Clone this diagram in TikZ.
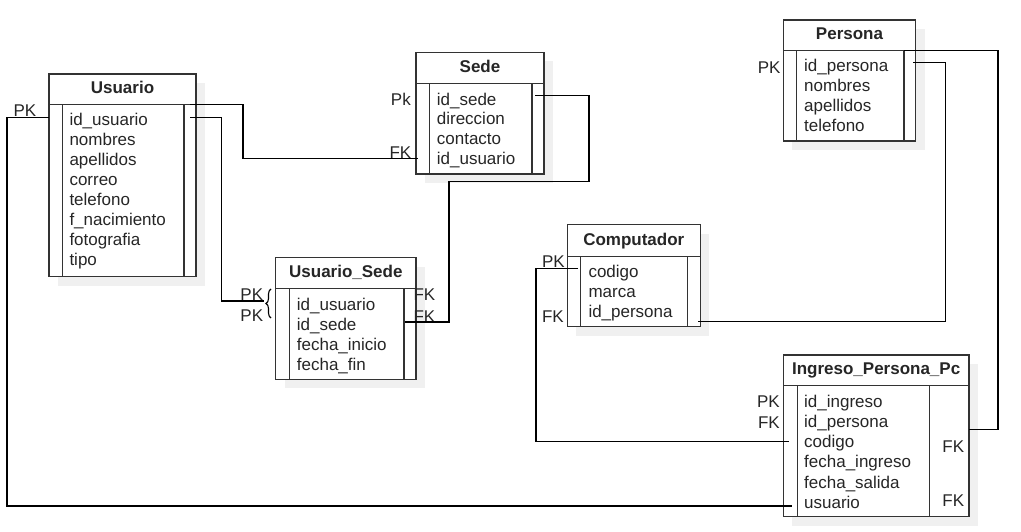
\documentclass[tikz,border=0pt]{standalone}
\usepackage{fontspec}
\setmainfont{Liberation Sans}
\usetikzlibrary{positioning, shadows, decorations.pathreplacing}
\tikzstyle{tabhead} = [rectangle, draw=black!80, line width=1.2pt, fill=white, inner sep=0pt, outer sep=0pt, text height=9pt, text depth=0pt, font=\fontsize{17}{20}\selectfont\bfseries, drop shadow={shadow xshift=9pt, shadow yshift=-9pt, fill=black!6, opacity=1}]
\tikzstyle{tabbody} = [rectangle, draw=black!80, line width=1.2pt, fill=white, inner sep=0pt, outer sep=0pt, drop shadow={shadow xshift=9pt, shadow yshift=-9pt, fill=black!6, opacity=1}]
\tikzstyle{attr} = [anchor=west, inner sep=0pt, text height=12pt, text depth=0pt]
\tikzstyle{pklabel} = [inner sep=0pt, text height=12pt, text depth=0pt]
\tikzstyle{colline} = [draw=black!80, line width=1.2pt]
\tikzstyle{relation} = [draw=black, line width=1.1pt]

\begin{document}
\begin{tikzpicture}[x=1pt, y=-1pt, every node/.style={font=\fontsize{17}{20}\selectfont, text=black!85}]
\useasboundingbox (0,0) rectangle (1021,532);

% Usuario
\node (usr) [tabhead, minimum width=147, minimum height=30.3] at (122.5,89.15) {Usuario};
\node (usr-b) [tabbody, minimum width=147, minimum height=172.4, below=0pt of usr] {};
\draw [colline] ([xshift=13.3pt]usr-b.north west) -- ([xshift=13.3pt]usr-b.south west);
\draw [colline] ([xshift=-12pt]usr-b.north east) -- ([xshift=-12pt]usr-b.south east);
\foreach \f [count=\i] in {id\_usuario, nombres, apellidos, correo, telefono, f\_nacimiento, fotografia, tipo}
  \node (usr-\i) [attr] at (69.3, 99.3+20*\i) {\f};

% Sede
\node (sed) [tabhead, minimum width=128, minimum height=31] at (480,67.8) {Sede};
\node (sed-b) [tabbody, minimum width=128, minimum height=90.7, below=0pt of sed] {};
\draw [colline] ([xshift=13.3pt]sed-b.north west) -- ([xshift=13.3pt]sed-b.south west);
\draw [colline] ([xshift=-12pt]sed-b.north east) -- ([xshift=-12pt]sed-b.south east);
\foreach \f [count=\i] in {id\_sede, direccion, contacto, id\_usuario}
  \node (sed-\i) [attr] at (436.7, 79.6+19.7*\i) {\f};

% Usuario_Sede
\node (usd) [tabhead, minimum width=140.3, minimum height=30.6] at (345.85,273) {Usuario\_Sede};
\node (usd-b) [tabbody, minimum width=140.3, minimum height=91, below=0pt of usd] {};
\draw [colline] ([xshift=13.6pt]usd-b.north west) -- ([xshift=13.6pt]usd-b.south west);
\draw [colline] ([xshift=-12pt]usd-b.north east) -- ([xshift=-12pt]usd-b.south east);
\foreach \f [count=\i] in {id\_usuario, id\_sede, fecha\_inicio, fecha\_fin}
  \node (usd-\i) [attr] at (296.7, 284+20*\i) {\f};

% Computador
\node (cmp) [tabhead, minimum width=133, minimum height=32] at (633.8,240.7) {Computador};
\node (cmp-b) [tabbody, minimum width=133, minimum height=70, below=0pt of cmp] {};
\draw [colline] ([xshift=13.4pt]cmp-b.north west) -- ([xshift=13.4pt]cmp-b.south west);
\draw [colline] ([xshift=-12.6pt]cmp-b.north east) -- ([xshift=-12.6pt]cmp-b.south east);
\foreach \f [count=\i] in {codigo, marca, id\_persona}
  \node (cmp-\i) [attr] at (588.3, 250.7+20.3*\i) {\f};

% Persona
\node (per) [tabhead, minimum width=132.4, minimum height=30.7] at (849.5,35.35) {Persona};
\node (per-b) [tabbody, minimum width=132.4, minimum height=90.3, below=0pt of per] {};
\draw [colline] ([xshift=13.4pt]per-b.north west) -- ([xshift=13.4pt]per-b.south west);
\draw [colline] ([xshift=-11.7pt]per-b.north east) -- ([xshift=-11.7pt]per-b.south east);
\foreach \f [count=\i] in {id\_persona, nombres, apellidos, telefono}
  \node (per-\i) [attr] at (804, 45.6+20.1*\i) {\f};

% Ingreso_Persona_Pc
\node (ipp) [tabhead, minimum width=185.7, minimum height=30.7] at (876.15,370.35) {Ingreso\_Persona\_Pc};
\node (ipp-b) [tabbody, minimum width=185.7, minimum height=131, below=0pt of ipp] {};
\draw [colline] ([xshift=14pt]ipp-b.north west) -- ([xshift=14pt]ipp-b.south west);
\draw [colline] ([xshift=-39.7pt]ipp-b.north east) -- ([xshift=-39.7pt]ipp-b.south east);
\foreach \f [count=\i] in {id\_ingreso, id\_persona, codigo, fecha\_ingreso, fecha\_salida, usuario}
  \node (ipp-\i) [attr] at (804, 380.7+20.3*\i) {\f};

% keys
\node (pk-usr) [pklabel, anchor=west] at (13.3,110.7) {PK};
\node (pk-sed) [pklabel, anchor=east] at (411,99.3) {Pk};
\node (fk-sed) [pklabel, anchor=east] at (411.5,153) {FK};
\node (pk-usd1) [pklabel, anchor=east] at (263.3,294.3) {PK};
\node (pk-usd2) [pklabel, anchor=east] at (263.3,315.3) {PK};
\node (fk-usd1) [pklabel, anchor=west] at (413.3,294.3) {FK};
\node (fk-usd2) [pklabel, anchor=west] at (413.3,316) {FK};
\node (pk-cmp) [pklabel, anchor=east] at (565,261.7) {PK};
\node (fk-cmp) [pklabel, anchor=east] at (564,316) {FK};
\node (pk-per) [pklabel, anchor=east] at (780.7,67.7) {PK};
\node (pk-ipp) [pklabel, anchor=east] at (780,401) {PK};
\node (fk-ipp1) [pklabel, anchor=east] at (780,422.3) {FK};
\node (fk-ipp2) [pklabel] at (953.3,446.7) {FK};
\node (fk-ipp3) [pklabel] at (953.3,500) {FK};

\coordinate (usd-pk) at (264,301);
\draw [relation, decorate, decoration={brace, amplitude=5pt}] (271,318) -- (271,289);

% relations
\draw [relation] ([yshift=2pt]usr-b.west |- usr-1) -- ++(-42,0) |- ([xshift=8.5pt, yshift=-3.5pt]ipp-b.west |- ipp-6);
\draw [relation] ([xshift=-6pt]usr-b.north east) -- ++(53,0) |- ([xshift=2pt]sed-b.west |- sed-4);
\draw [relation] ([xshift=-6pt, yshift=2pt]usr-b.east |- usr-1) -- ++(31.7,0) |- (usd-pk);
\draw [relation] ([xshift=-9pt, yshift=3.5pt]sed-b.east |- sed-1) -- ++(54,0) -- ++(0,86) -- ++(-140,0) |- ([xshift=-11pt, yshift=2pt]usd-b.east |- usd-2);
\draw [relation] ([xshift=-2.5pt, yshift=3.4pt]per-b.east |- per-1) -- ++(32,0) |- ([xshift=-2pt, yshift=-10pt]cmp-b.east |- cmp-3);
\draw [relation] ([xshift=-12pt]per-b.north east) -- ++(94.3,0) |- ([yshift=-8pt]ipp-b.east |- ipp-2);
\draw [relation] ([xshift=10.7pt, yshift=2.7pt]cmp-b.west |- cmp-1) -- ++(-42,0) |- ([xshift=6pt]ipp-b.west |- ipp-3);

\end{tikzpicture}
\end{document}
